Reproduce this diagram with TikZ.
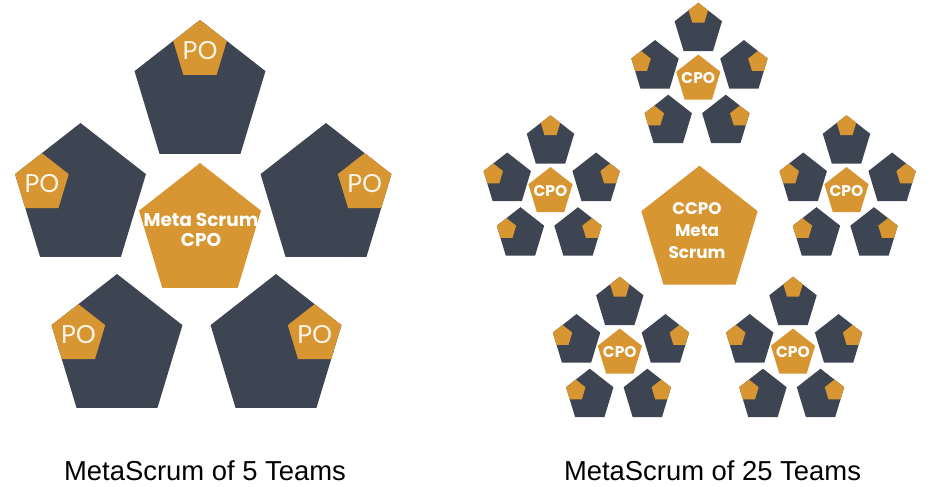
\documentclass[tikz,border=0pt]{standalone}
\usepackage{fontspec}
\newfontfamily\latof{Lato}
\newfontfamily\popf{Poppins}
\newfontfamily\arialf{Liberation Sans}
\definecolor{slate}{RGB}{61,69,82}
\definecolor{amber}{RGB}{215,150,49}
\definecolor{cream}{RGB}{250,244,232}
% pentagon path: centre (#1,#2), vertical radius #3, squeezed horizontally
\newcommand\pentpath[3]{({(#1)+0.93*(#3)*cos(90)},{(#2)-(#3)*sin(90)}) -- ({(#1)+0.93*(#3)*cos(162)},{(#2)-(#3)*sin(162)}) -- ({(#1)+0.93*(#3)*cos(234)},{(#2)-(#3)*sin(234)}) -- ({(#1)+0.93*(#3)*cos(306)},{(#2)-(#3)*sin(306)}) -- ({(#1)+0.93*(#3)*cos(18)},{(#2)-(#3)*sin(18)}) -- cycle}
% team: dark pentagon at (#1,#2) with product-owner pentagon at vertex angle #3
\newcommand\mkteam[3]{%
  \fill[teamfill] \pentpath{#1}{#2}{74};
  \fill[pofill] \pentpath{(#1)+0.93*0.59*74*cos(#3)}{(#2)-0.59*74*sin(#3)}{30.34};
}
\newcommand\mkcluster[3]{%
  \begin{scope}[shift={(#1,#2)},scale=#3]
    \mkteam{0}{-138}{90}
    \mkteam{-119.5}{-35}{162}
    \mkteam{126}{-35}{18}
    \mkteam{-83}{116}{162}
    \mkteam{76}{116}{18}
    \fill[pofill] \pentpath{0}{0}{69};
  \end{scope}}
\tikzset{
  teamfill/.style={fill=slate},
  pofill/.style={fill=amber},
  potext/.style={text=cream,font=\latof\fontsize{25}{25}\selectfont,inner sep=0pt},
  boldtext/.style={text=white,font=\popf\bfseries,align=center,inner sep=0pt},
  cpotext/.style={boldtext,font=\popf\bfseries\fontsize{15.5}{16}\selectfont},
  caption/.style={text=black,font=\arialf\fontsize{27.4}{30}\selectfont,anchor=base,inner sep=0pt}
}
\begin{document}
\begin{tikzpicture}[x=1pt,y=-1pt]
\useasboundingbox[fill=white] (0,0) rectangle (937,487);
% ---- left: 5 teams ----
\mkcluster{200}{232}{1}
\node[potext] (po1) at (200,50.3) {PO};
\node[potext] (po2) at (41.9,183.5) {PO};
\node[potext] (po3) at (364.6,183.5) {PO};
\node[potext] (po4) at (78.4,334.5) {PO};
\node[potext] (po5) at (314.6,334.5) {PO};
\node[boldtext,font=\popf\bfseries\fontsize{18.5}{20.5}\selectfont] (meta) at (201,230) {Meta Scrum\\CPO};
% ---- right: 25 teams ----
\mkcluster{698.3}{79.5}{0.362}
\mkcluster{550.5}{192}{0.362}
\mkcluster{846.5}{192}{0.362}
\mkcluster{619.8}{353.5}{0.362}
\mkcluster{793}{353.5}{0.362}
\fill[pofill] \pentpath{699.5}{231.5}{65.8};
\node[cpotext] (cpo1) at (698.3,78.5) {CPO};
\node[cpotext] (cpo2) at (550.5,191) {CPO};
\node[cpotext] (cpo3) at (846.5,191) {CPO};
\node[cpotext] (cpo4) at (619.8,352.5) {CPO};
\node[cpotext] (cpo5) at (793,352.5) {CPO};
\node[boldtext,font=\popf\bfseries\fontsize{16.8}{21.7}\selectfont] (ccpo) at (697,230.5) {CCPO\\Meta\\Scrum};
% ---- captions ----
\node[caption] (cap1) at (205,480.7) {MetaScrum of 5 Teams};
\node[caption] (cap2) at (712.5,480.7) {MetaScrum of 25 Teams};
\end{tikzpicture}
\end{document}
